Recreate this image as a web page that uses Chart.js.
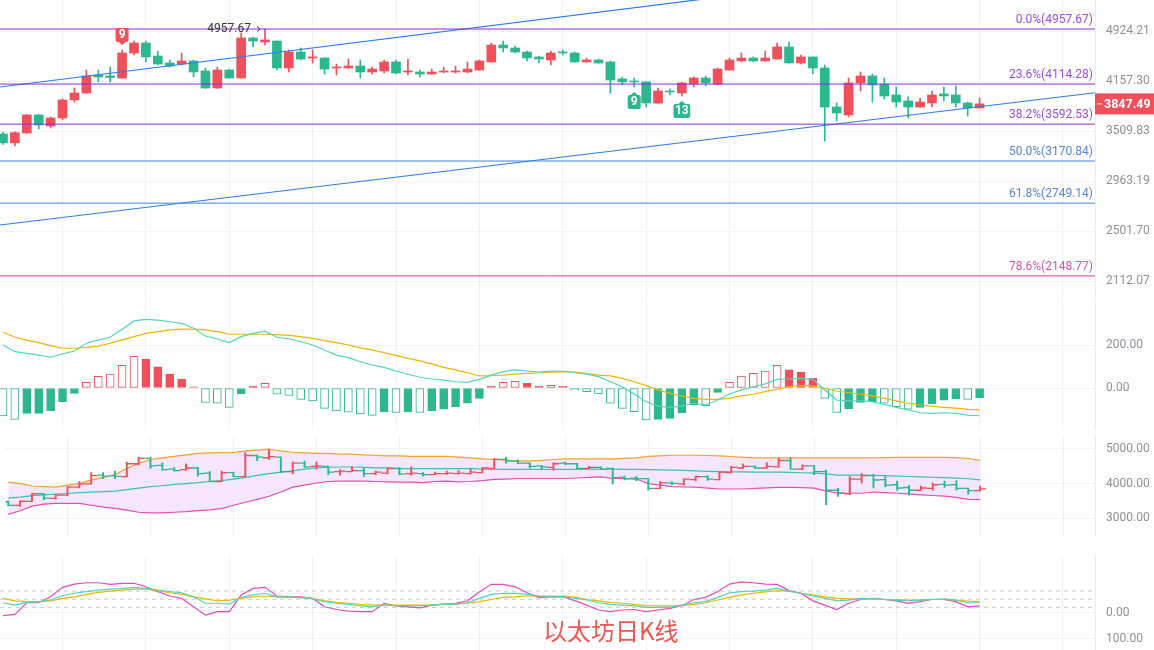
<!DOCTYPE html>
<html lang="zh">
<head>
<meta charset="utf-8">
<title>以太坊日K线</title>
<script src="https://cdn.jsdelivr.net/npm/chart.js@4.4.1/dist/chart.umd.min.js"></script>
<style>
  html, body { margin: 0; padding: 0; background: #fff; }
  body { width: 1154px; height: 650px; position: relative; overflow: hidden; }
  .pane { position: absolute; left: 0; width: 1154px; }
  .pane canvas { display: block; }
  #title { position: absolute; left: 543px; top: 615px; font-size: 24px; line-height: 30px;
           font-family: "Noto Sans CJK SC", sans-serif; color: #F0554E; white-space: nowrap; }
</style>
</head>
<body>
<div class="pane" style="top:0"><canvas id="mainChart" width="1154" height="297"></canvas></div>
<div class="pane" style="top:298px"><canvas id="macdChart" width="1154" height="132"></canvas></div>
<div class="pane" style="top:430px"><canvas id="bollChart" width="1154" height="112"></canvas></div>
<div class="pane" style="top:555px"><canvas id="kdjChart" width="1154" height="95"></canvas></div>
<div id="title">以太坊日K线</div>
<script>
// daily candles, oldest first
const candleOpen = [3475,3372,3487,3706,3570,3668,3899,3992,4243,4229,
  4200,4571,4728,4525,4419,4404,4449,4301,4060,4315,
  4200,4809,4744,4760,4345,4587,4494,4494,4345,4345,
  4374,4286,4301,4434,4286,4286,4257,4286,4286,4286,
  4315,4434,4696,4649,4587,4510,4464,4587,4571,4434,
  4464,4434,4186,4158,4144,3859,4019,3992,4116,4200,
  4116,4315,4449,4494,4449,4479,4665,4419,4510,4345,
  3807,3706,4130,4229,4116,3965,3886,3807,3859,3979,
  3965,3859,3795];
const candleHigh = [3498,3500,3712,3710,3681,3912,4060,4315,4315,4359,
  4618,4760,4760,4600,4464,4571,4464,4345,4359,4330,
  4891,4825,4957.67,4765,4618,4649,4618,4500,4404,4479,
  4464,4359,4464,4464,4479,4315,4330,4359,4374,4434,
  4464,4728,4760,4681,4602,4525,4602,4618,4587,4494,
  4479,4449,4214,4200,4150,4060,4047,4137,4214,4229,
  4345,4494,4571,4510,4602,4728,4744,4540,4517,4389,
  3859,4200,4286,4257,4200,4074,3939,3925,4019,4074,
  4088,3872,3925];
const candleLow = [3355,3340,3480,3534,3546,3644,3872,3990,4144,4144,
  4195,4540,4434,4389,4359,4389,4214,4055,4055,4195,
  4195,4665,4696,4315,4286,4464,4419,4257,4243,4340,
  4200,4257,4272,4257,4243,4214,4255,4272,4272,4272,
  4310,4430,4587,4571,4449,4419,4389,4540,4430,4430,
  4415,3992,4102,4074,3807,3855,3965,3952,4074,4088,
  4102,4310,4434,4434,4445,4475,4415,4404,4257,3393,
  3631,3681,4019,3872,3912,3807,3668,3800,3807,3886,
  3807,3693,3790];
const candleClose = [3372,3490,3706,3582,3668,3899,3992,4229,4214,4207,
  4571,4728,4510,4404,4374,4449,4286,4060,4315,4200,
  4809,4760,4777,4345,4587,4479,4510,4330,4359,4374,
  4286,4330,4434,4272,4301,4257,4286,4301,4301,4330,
  4449,4696,4649,4587,4494,4479,4571,4571,4434,4464,
  4419,4172,4144,4144,3859,4019,4006,4130,4200,4130,
  4330,4464,4494,4449,4494,4665,4419,4510,4345,3807,
  3731,4130,4229,4102,3952,3872,3807,3872,3965,3952,
  3859,3795,3847.49];

// price axis ticks and fibonacci retracement
const priceTicks = [2112.07, 2501.70, 2963.19, 3509.83, 4157.30, 4924.21];
const fibRatios = ['0.0%', '23.6%', '38.2%', '50.0%', '61.8%', '78.6%'];
const fibValues = [4957.67, 4114.28, 3592.53, 3170.84, 2749.14, 2148.77];

// channel trend lines: [index, price] end points
const trendUpper = [[-0.25, 4074], [59, 5491]];
const trendLower = [[-0.25, 2553], [91.69, 3995]];

// TD sequential marks
const tdIndex = [10, 53, 57];
const tdLabel = ['9', '9', '13'];
const tdAbove = [true, false, false];

// MACD
const macdHist = [-130,-146,-118,-118,-105,-64,-25,26,54,65,
  106,147,135,98,65,42,5,-67,-71,-90,
  -26,9,22,-29,-34,-53,-60,-95,-107,-112,
  -121,-127,-110,-113,-111,-114,-105,-99,-87,-71,
  -48,8,26,31,22,9,12,8,-9,-17,
  -28,-71,-95,-110,-149,-146,-141,-115,-79,-82,
  -20,26,56,68,79,106,84,74,45,-48,
  -113,-96,-67,-64,-71,-87,-99,-90,-74,-56,
  -51,-53,-45];
const macdDif = [200,169,161,153,143,158,172,208,223,236,
  273,312,319,316,308,301,278,242,228,211,
  239,254,264,236,229,215,200,177,153,141,
  122,107,96,79,64,50,42,37,29,26,
  40,60,76,84,79,74,79,78,71,64,
  53,29,6,-28,-64,-84,-90,-84,-71,-79,
  -56,-28,-9,6,19,40,42,45,40,-9,
  -56,-60,-60,-64,-76,-90,-102,-115,-118,-115,
  -118,-126,-129];
const macdDea = [259,236,223,211,197,185,185,189,195,208,
  223,239,254,262,270,274,274,270,262,250,
  250,250,250,248,245,239,231,220,211,200,
  187,177,164,152,138,126,112,96,84,71,
  56,57,60,65,68,71,74,76,74,68,
  60,56,45,29,11,-9,-25,-37,-48,-53,
  -53,-48,-37,-29,-17,-6,6,11,9,-1,
  -14,-22,-29,-37,-48,-60,-71,-79,-84,-90,
  -94,-99,-102];
const macdTicks = [0, 200];

// Bollinger bands
const bollUpper = [4042,4000,3930,3911,3896,3956,4000,4104,4172,4261,
  4433,4590,4694,4739,4783,4825,4869,4887,4895,4895,
  4940,4966,4992,4940,4903,4887,4869,4869,4851,4851,
  4825,4809,4800,4800,4783,4783,4783,4783,4765,4739,
  4713,4694,4678,4652,4652,4670,4694,4713,4713,4713,
  4713,4713,4726,4739,4783,4800,4817,4817,4817,4810,
  4800,4780,4757,4739,4739,4739,4739,4739,4739,4739,
  4739,4739,4739,4745,4750,4757,4757,4757,4757,4757,
  4750,4722,4670];
const bollMid = [3582,3608,3650,3676,3695,3713,3739,3755,3765,3781,
  3825,3869,3911,3937,3974,4000,4026,4060,4086,4130,
  4172,4235,4287,4329,4365,4418,4452,4470,4478,4478,
  4470,4452,4452,4433,4433,4433,4433,4433,4433,4433,
  4418,4418,4407,4407,4407,4407,4407,4407,4410,4415,
  4418,4418,4410,4407,4400,4392,4385,4378,4365,4352,
  4345,4339,4335,4332,4330,4329,4320,4312,4303,4278,
  4243,4243,4243,4235,4226,4217,4204,4191,4182,4172,
  4155,4138,4104];
const bollLower = [3113,3217,3348,3408,3426,3426,3426,3374,3321,3285,
  3233,3173,3154,3154,3173,3191,3217,3243,3277,3374,
  3460,3546,3635,3755,3896,3956,4016,4060,4068,4068,
  4068,4060,4051,4042,4042,4026,4060,4068,4051,4060,
  4086,4120,4130,4146,4146,4146,4146,4146,4160,4180,
  4191,4146,4140,4130,4000,3956,3911,3900,3896,3870,
  3843,3843,3843,3860,3878,3890,3890,3880,3869,3781,
  3721,3721,3721,3756,3740,3721,3700,3676,3655,3635,
  3600,3546,3538];
const bollTicks = [3000, 4000, 5000];

// KDJ
const kdjK = [37,28,38,41,47,63,72,78,84,87,
  89,94,90,84,78,74,59,35,35,32,
  57,66,72,59,59,56,51,41,35,31,
  25,22,28,26,25,26,28,32,32,37,
  53,68,72,72,68,62,59,59,54,47,
  37,31,28,25,20,20,20,28,37,41,
  57,74,78,80,84,90,80,72,62,53,
  44,47,53,51,49,47,44,47,49,51,
  47,37,37];
const kdjD = [53,44,41,41,44,53,59,68,75,80,
  84,87,87,82,74,69,59,51,44,47,
  53,59,62,59,57,56,53,44,38,35,
  31,28,28,28,28,28,28,31,32,35,
  41,49,57,59,62,62,62,62,58,49,
  44,38,35,31,26,25,25,26,31,37,
  47,57,66,72,77,82,80,72,66,59,
  53,51,51,51,49,49,47,47,49,49,
  47,43,41];
const kdjJ = [-11,-6,37,37,59,94,106,111,111,105,
  109,109,96,78,62,53,22,-9,4,4,
  66,90,94,62,59,59,53,22,12,6,
  4,4,35,25,22,18,28,32,35,44,
  78,105,105,96,74,56,59,59,45,28,
  10,4,10,12,4,10,16,26,49,57,
  78,106,114,111,106,105,82,72,44,28,
  12,35,49,53,49,44,35,41,49,49,
  41,22,25];
const kdjLevels = [20, 50, 80];
const kdjAxisTicks = [0, 100];

// weekly vertical grid (candle index)
const gridDays = [5, 12, 19, 26, 33, 40, 47, 54, 61, 68, 75, 82, 89];

const UP = '#F0505A';
const DOWN = '#2DB78F';
const GRID = '#F3F3F3';
const X_MIN = -0.25, X_MAX = 91.69, AXIS_W = 59;

const idx = candleClose.map((_, i) => i);
const candleColor = idx.map(i => candleClose[i] >= candleOpen[i] ? UP : DOWN);
const pts = arr => arr.map((v, i) => ({ x: i, y: v }));
const hline = v => [{ x: X_MIN, y: v }, { x: X_MAX, y: v }];

Chart.defaults.font.family = 'Roboto, "Noto Sans", sans-serif';
Chart.defaults.animation = false;
Chart.defaults.plugins.legend.display = false;
Chart.defaults.plugins.tooltip.enabled = false;

function xAxis() {
  return {
    type: 'linear', min: X_MIN, max: X_MAX, offset: false,
    grid: { color: GRID, drawTicks: false, offset: false },
    border: { display: false },
    ticks: { display: false },
    afterBuildTicks: s => { s.ticks = gridDays.map(v => ({ value: v })); },
    afterFit: s => { s.height = 0; s.paddingLeft = 0; s.paddingRight = 0; }
  };
}
function yAxis(min, max, ticks, extra) {
  return Object.assign({
    position: 'right', min: min, max: max,
    grid: { color: GRID, drawTicks: false },
    border: { display: true, color: '#EDEDED' },
    ticks: { color: '#8C9099', font: { size: 12 }, padding: 11, callback: v => Number(v).toFixed(2) },
    afterBuildTicks: s => { s.ticks = ticks.map(v => ({ value: v })); },
    afterFit: s => { s.width = AXIS_W; s.paddingTop = 0; s.paddingBottom = 0; }
  }, extra || {});
}
function line(data, color, extra) {
  return Object.assign({
    type: 'line', data: data, borderColor: color, borderWidth: 1.2,
    pointRadius: 0, tension: 0, fill: false, order: 0
  }, extra || {});
}
const baseOpts = { responsive: false, devicePixelRatio: 1, layout: { padding: 0 } };

// ---------- main candles ----------
const fibLineColors = ['#8B2BE2', '#8B2BE2', '#8B2BE2', '#3D86E6', '#3D86E6', '#D63CB6'];
const fibTextColors = ['#9B4BE3', '#9B4BE3', '#9B4BE3', '#5B80E0', '#5B80E0', '#D452B2'];

const mainOverlay = {
  id: 'mainOverlay',
  afterDatasetsDraw(chart) {
    const { ctx, chartArea, scales: { x, y } } = chart;
    ctx.save();
    // fib labels
    ctx.font = '12px Roboto';
    ctx.textAlign = 'right';
    ctx.textBaseline = 'middle';
    fibValues.forEach((v, k) => {
      ctx.fillStyle = fibTextColors[k];
      ctx.fillText(fibRatios[k] + '(' + v.toFixed(2) + ')', chartArea.right - 2, y.getPixelForValue(v) - 9);
    });
    // highest price marker
    const hi = Math.max(...candleHigh);
    const hiI = candleHigh.indexOf(hi);
    const hx = x.getPixelForValue(hiI), hy = y.getPixelForValue(hi);
    ctx.fillStyle = '#333';
    ctx.font = '12px Roboto';
    ctx.fillText(hi.toFixed(2), hx - 14, hy);
    ctx.strokeStyle = '#333';
    ctx.lineWidth = 1;
    ctx.beginPath();
    ctx.moveTo(hx - 8, hy - 2.5); ctx.lineTo(hx - 5, hy); ctx.lineTo(hx - 8, hy + 2.5);
    ctx.stroke();
    // TD sequential boxes
    ctx.font = 'bold 12px Roboto';
    ctx.textAlign = 'center';
    tdIndex.forEach((i, k) => {
      const cx = x.getPixelForValue(i);
      const w = Math.max(13, ctx.measureText(tdLabel[k]).width + 3), h = 14;
      const col = tdAbove[k] ? UP : DOWN;
      let top, tipY, baseY;
      if (tdAbove[k]) {
        tipY = y.getPixelForValue(candleHigh[i]) - 5; top = tipY - 3 - h; baseY = top + h;
      } else {
        tipY = y.getPixelForValue(candleLow[i]) + 5; top = tipY + 3; baseY = top;
      }
      ctx.fillStyle = col;
      ctx.beginPath();
      ctx.roundRect(cx - w / 2, top, w, h, 2);
      ctx.fill();
      ctx.beginPath();
      ctx.moveTo(cx - 3.5, baseY); ctx.lineTo(cx, tipY); ctx.lineTo(cx + 3.5, baseY);
      ctx.fill();
      ctx.fillStyle = '#fff';
      ctx.fillText(tdLabel[k], cx, top + h / 2 + 0.5);
    });
    // last price tag
    const last = candleClose[candleClose.length - 1];
    const py = y.getPixelForValue(last);
    ctx.fillStyle = UP;
    ctx.fillRect(chartArea.right, py - 10.5, chart.width - chartArea.right, 21);
    ctx.fillStyle = '#fff';
    ctx.fillRect(chartArea.right + 2, py - 0.5, 5, 1);
    ctx.font = 'bold 12.5px Roboto';
    ctx.textAlign = 'left';
    ctx.fillText(last.toFixed(2), chartArea.right + 9, py + 0.5);
    ctx.restore();
  }
};

new Chart(document.getElementById('mainChart'), {
  type: 'bar',
  data: {
    datasets: [
      ...fibValues.map((v, k) => line(hline(v), fibLineColors[k], { borderWidth: 1 })),
      line(trendUpper.map(p => ({ x: p[0], y: p[1] })), '#2A7DE1'),
      line(trendLower.map(p => ({ x: p[0], y: p[1] })), '#2A7DE1'),
      {
        type: 'bar', data: idx.map(i => ({ x: i, y: [candleLow[i], candleHigh[i]] })),
        backgroundColor: candleColor, barThickness: 1, grouped: false, minBarLength: 1, order: 2
      },
      {
        type: 'bar',
        data: idx.map(i => ({ x: i, y: [Math.min(candleOpen[i], candleClose[i]), Math.max(candleOpen[i], candleClose[i])] })),
        backgroundColor: candleColor, barThickness: 9, grouped: false, minBarLength: 1, order: 1
      }
    ]
  },
  options: Object.assign({}, baseOpts, {
    scales: { x: xAxis(), y: yAxis(2000.7, 5469.3, priceTicks, { type: 'logarithmic' }) }
  }),
  plugins: [mainOverlay]
});

// ---------- MACD ----------
const macdColor = macdHist.map(v => v >= 0 ? UP : DOWN);
const macdHollow = macdHist.map((v, i) => i === 0 || Math.abs(v) > Math.abs(macdHist[i - 1]));
new Chart(document.getElementById('macdChart'), {
  type: 'bar',
  data: {
    datasets: [
      line(pts(macdDif), '#52D5C0'),
      line(pts(macdDea), '#F5B400'),
      {
        type: 'bar', data: pts(macdHist), barThickness: 8, grouped: false, order: 1,
        backgroundColor: idx.map(i => macdHollow[i] ? '#FFFFFF' : macdColor[i]),
        borderColor: macdColor, borderWidth: 1, borderSkipped: false
      }
    ]
  },
  options: Object.assign({}, baseOpts, {
    scales: { x: xAxis(), y: yAxis(-195.3, 418.6, macdTicks) }
  })
});

// ---------- BOLL ----------
new Chart(document.getElementById('bollChart'), {
  type: 'bar',
  data: {
    datasets: [
      line(pts(bollUpper), '#F5A12A', { fill: '+2', backgroundColor: '#F4E6FC', order: 5 }),
      line(pts(bollMid), '#3CBFB4', { order: 2 }),
      line(pts(bollLower), '#E34DB9', { order: 2 }),
      {
        type: 'bar', data: idx.map(i => ({ x: i, y: [candleLow[i], candleHigh[i]] })),
        backgroundColor: candleColor, barThickness: 1.3, grouped: false, order: 1
      },
      {
        type: 'line', data: idx.map(i => ({ x: i - 0.25, y: candleOpen[i] })), showLine: false,
        pointStyle: 'line', pointRadius: 3, pointBorderWidth: 1.3, pointBorderColor: candleColor, order: 1
      },
      {
        type: 'line', data: idx.map(i => ({ x: i + 0.25, y: candleClose[i] })), showLine: false,
        pointStyle: 'line', pointRadius: 3, pointBorderWidth: 1.3, pointBorderColor: candleColor, order: 1
      }
    ]
  },
  options: Object.assign({}, baseOpts, {
    scales: { x: xAxis(), y: yAxis(2467, 5392, bollTicks) }
  })
});

// ---------- KDJ ----------
new Chart(document.getElementById('kdjChart'), {
  type: 'line',
  data: {
    datasets: [
      ...kdjLevels.map(v => line(hline(v), '#C9C9C9', { borderWidth: 1, borderDash: [4, 4], order: 2 })),
      line(pts(kdjK), '#4CD6BE'),
      line(pts(kdjD), '#F5B400'),
      line(pts(kdjJ), '#E24CC0')
    ]
  },
  options: Object.assign({}, baseOpts, {
    scales: {
      x: xAxis(),
      y: { display: false, min: -138, max: 213.7 },
      yLab: yAxis(-219, 141.8, kdjAxisTicks, { reverse: true })
    }
  })
});
</script>
</body>
</html>
